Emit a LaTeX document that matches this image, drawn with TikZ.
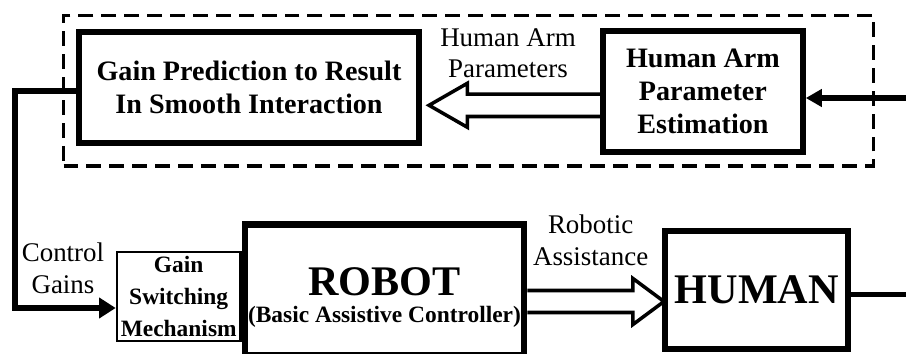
\documentclass[tikz,border=0pt]{standalone}
\usepackage{fontspec}
\setmainfont{Liberation Serif}
\usetikzlibrary{arrows.meta, positioning, calc}

\begin{document}
\begin{tikzpicture}[>=Latex,
        block/.style={rectangle, draw, line width=5.2pt, align=center, font=\bfseries\fontsize{24}{28}\selectfont},
        switchbox/.style={rectangle, draw, line width=2pt, align=center, font=\bfseries\fontsize{20}{27}\selectfont},
        frame/.style={rectangle, draw, line width=3pt, dash pattern=on 12.75pt off 6.8pt},
        lbl/.style={align=center, inner sep=0pt, font=\fontsize{23}{27}\selectfont},
        wire/.style={line width=4.8pt},
        hollow/.style={line width=3pt, line join=miter}]

    \useasboundingbox (0,0) rectangle (27.18,10.62);

    % Upper loop
    \node (predict) [block, minimum width=10.22cm, minimum height=3.35cm] at (7.47,7.995) {Gain Prediction to Result\\In Smooth Interaction};
    \node (estim) [block, minimum width=5.99cm, minimum height=3.65cm, right=5.33cm of predict, yshift=-0.12cm] {Human Arm\\Parameter\\Estimation};
    \node (frame) [frame, minimum width=24.3cm, minimum height=4.515cm] at (14.055,7.8975) {};
    \node (armlabel) [lbl] at (15.24,9.027) {Human Arm\\Parameters};

    % Lower loop
    \node (robot) [block, minimum width=8.385cm, minimum height=3.93cm] at (11.535,1.92) {};
    \node (robottext) [align=center, font=\bfseries\fontsize{20}{23}\selectfont] at ($(robot.center)+(0,-0.23)$) {{\fontsize{36}{36}\selectfont ROBOT}\\(Basic Assistive Controller)};
    \node (switch) [switchbox, minimum width=3.66cm, minimum height=2.67cm, left=0pt of robot, yshift=-0.195cm] {Gain\\Switching\\Mechanism};
    \node (human) [block, minimum width=5.49cm, minimum height=3.54cm, right=4.05cm of robot, font=\bfseries\fontsize{36}{36}\selectfont] {HUMAN};
    \node (ctrllabel) [lbl] at (1.89,2.577) {Control\\Gains};
    \node (assistlabel) [lbl] at (17.72,3.417) {Robotic\\Assistance};

    % Signals in and out
    \coordinate (estimin) at (27.3,7.68);
    \coordinate (humanout) at (27.3,1.785);
    \coordinate (fbx) at (0.445,7.89);
    \draw [wire, -{Triangle[length=0.48cm, width=0.51cm]}] (estimin) -- (estimin -| estim.east);
    \draw [wire] (humanout -| human.east) -- (humanout);
    \draw [wire, -{Triangle[length=0.5cm, width=0.6cm]}] (fbx -| predict.west) -- (fbx) |- ($(switch.west)+(0,-0.345)$);

    % Hollow arrows
    \coordinate (armtip) at ($(predict.east)+(0.2,-0.534)$);
    \draw [hollow] ($(armtip -| estim.west)+(0,0.336)$) -- ($(armtip)+(1.15,0.336)$) -- ++(0,0.324) -- (armtip)
        -- ++(1.15,-0.66) -- ++(0,0.324) -- ($(armtip -| estim.west)+(0,-0.336)$);

    \coordinate (asstip) at ($(human.west)+(0.05,-0.345)$);
    \draw [hollow] ($(asstip -| robot.east)+(0,0.33)$) -- ($(asstip)+(-0.93,0.33)$) -- ++(0,0.36) -- (asstip)
        -- ++(-0.93,-0.69) -- ++(0,0.36) -- ($(asstip -| robot.east)+(0,-0.33)$);

\end{tikzpicture}
\end{document}
